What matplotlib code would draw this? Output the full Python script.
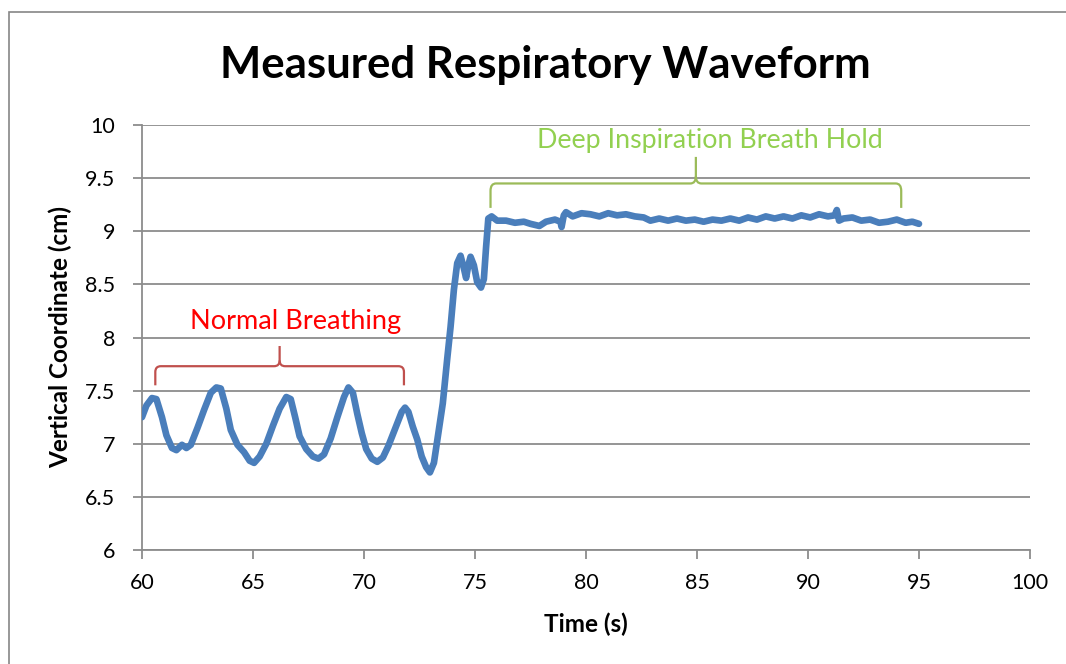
import matplotlib
matplotlib.use("Agg")
import matplotlib.pyplot as plt
from matplotlib.path import Path
from matplotlib.patches import PathPatch, Rectangle

plt.rcParams['font.family'] = ['Lato', 'DejaVu Sans']

# waveform: time (s), vertical coordinate (cm)
time_s = [60.0, 60.2, 60.45, 60.65, 60.9, 61.1, 61.35, 61.55, 61.8, 62.0, 62.2, 62.5,
          62.8, 63.1, 63.35, 63.55, 63.8, 64.0, 64.3, 64.6, 64.85, 65.05, 65.3, 65.6,
          65.9, 66.2, 66.5, 66.7, 66.9, 67.1, 67.4, 67.7, 67.95, 68.2, 68.5, 68.8,
          69.1, 69.3, 69.5, 69.7, 69.9, 70.1, 70.35, 70.6, 70.85, 71.1, 71.4, 71.7,
          71.85, 72.0, 72.2, 72.4, 72.6, 72.8, 72.97, 73.15, 73.35, 73.55, 73.75, 73.9,
          74.05, 74.2, 74.35, 74.5, 74.6, 74.7, 74.8, 74.95, 75.1, 75.27, 75.4, 75.5,
          75.6, 75.75, 76.0, 76.4, 76.8, 77.2, 77.5, 77.9, 78.2, 78.6, 78.85, 78.9,
          79.0, 79.1, 79.4, 79.8, 80.2, 80.6, 81.0, 81.4, 81.8, 82.2, 82.6, 82.9,
          83.3, 83.7, 84.1, 84.5, 84.9, 85.3, 85.7, 86.1, 86.5, 86.9, 87.3, 87.7,
          88.1, 88.5, 88.9, 89.3, 89.7, 90.1, 90.5, 90.9, 91.2, 91.3, 91.4, 91.6,
          92.0, 92.4, 92.8, 93.2, 93.6, 94.0, 94.4, 94.7, 95.0]
position_cm = [7.25, 7.36, 7.43, 7.42, 7.25, 7.08, 6.96, 6.94, 6.99, 6.96, 6.99, 7.15,
               7.32, 7.48, 7.53, 7.52, 7.33, 7.13, 6.99, 6.92, 6.84, 6.82, 6.88, 7.0,
               7.17, 7.33, 7.44, 7.42, 7.25, 7.07, 6.95, 6.88, 6.86, 6.90, 7.05, 7.25,
               7.44, 7.53, 7.48, 7.28, 7.1, 6.95, 6.86, 6.83, 6.87, 6.98, 7.14, 7.30,
               7.34, 7.3, 7.16, 7.04, 6.88, 6.78, 6.73, 6.82, 7.1, 7.38, 7.8, 8.1,
               8.45, 8.7, 8.77, 8.65, 8.56, 8.68, 8.76, 8.68, 8.52, 8.47, 8.55, 8.85,
               9.12, 9.14, 9.1, 9.1, 9.08, 9.09, 9.07, 9.05, 9.09, 9.11, 9.09, 9.04,
               9.15, 9.18, 9.14, 9.17, 9.16, 9.14, 9.17, 9.15, 9.16, 9.14, 9.13, 9.10,
               9.12, 9.10, 9.12, 9.10, 9.11, 9.09, 9.11, 9.10, 9.12, 9.10, 9.13, 9.11,
               9.14, 9.12, 9.14, 9.12, 9.15, 9.13, 9.16, 9.14, 9.15, 9.2, 9.1, 9.12,
               9.13, 9.10, 9.11, 9.08, 9.09, 9.11, 9.08, 9.09, 9.07]

x_ticks = [60, 65, 70, 75, 80, 85, 90, 95, 100]
y_ticks = [6, 6.5, 7, 7.5, 8, 8.5, 9, 9.5, 10]
y_tick_labels = ['6', '6.5', '7', '7.5', '8', '8.5', '9', '9.5', '10']


def brace(ax, x0, x1, y_end, y_bar, y_tip, color):
    # curly brace opening downward, drawn in data coords
    xm = (x0 + x1) / 2
    rx = 0.25
    ry = (y_bar - y_end) * 0.3
    verts = [(x0, y_end), (x0, y_bar - ry), (x0, y_bar), (x0 + rx, y_bar),
             (xm - rx, y_bar), (xm, y_bar), (xm, y_bar + ry), (xm, y_tip)]
    codes = [Path.MOVETO, Path.LINETO, Path.CURVE3, Path.CURVE3,
             Path.LINETO, Path.CURVE3, Path.CURVE3, Path.LINETO]
    ax.add_patch(PathPatch(Path(verts, codes), fill=False, edgecolor=color, lw=1.6))
    verts = [(x1, y_end), (x1, y_bar - ry), (x1, y_bar), (x1 - rx, y_bar),
             (xm + rx, y_bar), (xm, y_bar), (xm, y_bar + ry)]
    codes = [Path.MOVETO, Path.LINETO, Path.CURVE3, Path.CURVE3,
             Path.LINETO, Path.CURVE3, Path.CURVE3]
    ax.add_patch(PathPatch(Path(verts, codes), fill=False, edgecolor=color, lw=1.6))


fig = plt.figure(figsize=(10.66, 6.64), dpi=100)
ax = fig.add_axes([0.1332, 0.1717, 0.8330, 0.6400])

# chart area border
fig.patches.append(Rectangle((9 / 1066, -0.05), 1.2, 1 - 12 / 664 + 0.05,
                             transform=fig.transFigure, fill=False,
                             edgecolor='#868686', lw=1.2))

ax.plot(time_s, position_cm, color='#4A7EBB', lw=4.8, solid_capstyle='round', zorder=3)

ax.set_xlim(60, 100)
ax.set_ylim(6, 10)
ax.set_xticks(x_ticks)
ax.set_yticks(y_ticks)
ax.set_yticklabels(y_tick_labels)
ax.grid(axis='y', color='#8C8C8C', lw=1.3)
ax.set_axisbelow(True)
for s in ['top', 'right']:
    ax.spines[s].set_visible(False)
for s in ['left', 'bottom']:
    ax.spines[s].set_color('#8C8C8C')
    ax.spines[s].set_linewidth(1.3)
ax.tick_params(axis='both', colors='#8C8C8C', width=1.3, length=6.5,
               labelcolor='black', labelsize=15.5)
ax.tick_params(axis='x', pad=10)
ax.tick_params(axis='y', pad=13)

fig.text(545 / 1066, 1 - 65 / 664, 'Measured Respiratory Waveform', fontsize=31.5,
         fontweight='bold', ha='center', va='center')
fig.text(586 / 1066, 1 - 624 / 664, 'Time (s)', fontsize=17.5, fontweight='bold',
         ha='center', va='center')
fig.text(60 / 1066, 1 - 337 / 664, 'Vertical Coordinate (cm)', fontsize=17.5,
         fontweight='bold', ha='center', va='center', rotation=90)

brace(ax, 60.6, 71.8, 7.55, 7.73, 7.92, '#C0504D')
ax.text(66.9, 8.15, 'Normal Breathing', color='#FF0000', fontsize=19.5,
        ha='center', va='center')
brace(ax, 75.7, 94.2, 9.22, 9.45, 9.7, '#9BBB59')
ax.text(85.6, 9.85, 'Deep Inspiration Breath Hold', color='#92D050', fontsize=19.3,
        ha='center', va='center')

fig.savefig('out.png', dpi=100)
